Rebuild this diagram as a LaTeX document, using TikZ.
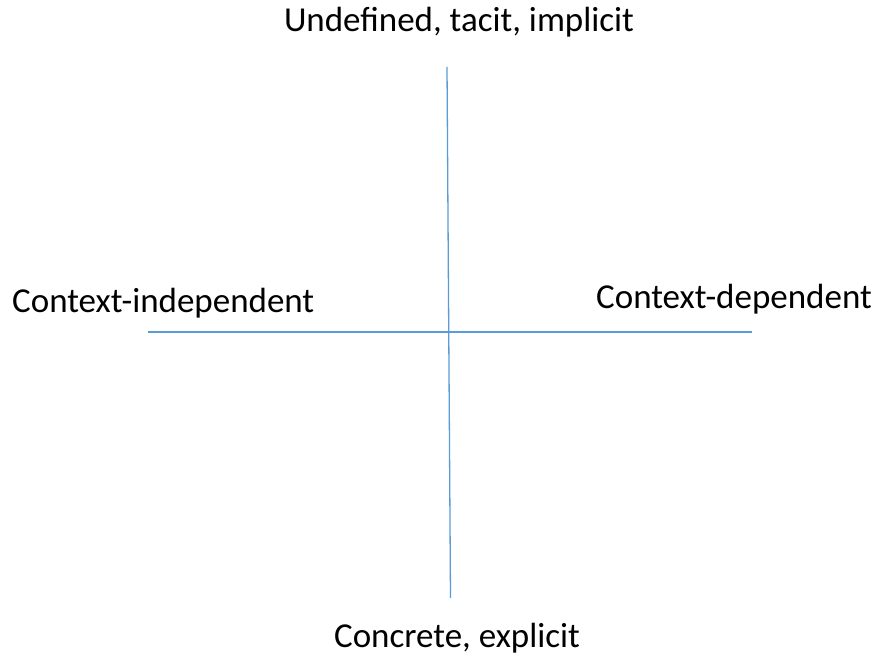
\documentclass[tikz,border=0pt]{standalone}
\usepackage{fontspec}
\setmainfont{Carlito}
\definecolor{axisblue}{HTML}{5B9BD5}
\begin{document}
\begin{tikzpicture}[x=1pt,y=1pt,
  axis/.style={draw=axisblue,line width=1.3pt},
  lbl/.style={inner sep=0pt,font=\fontsize{35}{40}\selectfont}]
\useasboundingbox (0,0) rectangle (877,658);
\coordinate (vt) at (447,591);
\coordinate (vb) at (450.5,60);
\coordinate (hl) at (148,326);
\coordinate (hr) at (752,326);
\draw[axis] (vt) -- (vb);
\draw[axis] (hl) -- (hr);
\node[lbl] (top) at (459,636) {Undefined, tacit, implicit};
\node[lbl,anchor=west] (left) at (12,355) {Context-independent};
\node[lbl,anchor=east] (right) at (872,359) {Context-dependent};
\node[lbl] (bottom) at (457,20) {Concrete, explicit};
\end{tikzpicture}
\end{document}
